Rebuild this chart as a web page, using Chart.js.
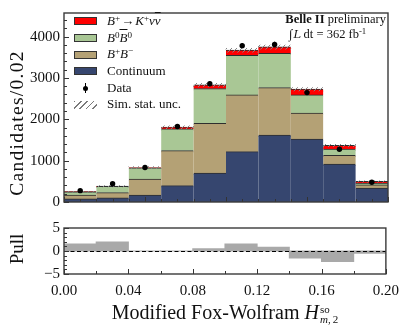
<!DOCTYPE html>
<html>
<head>
<meta charset="utf-8">
<title>Modified Fox-Wolfram H2 distribution</title>
<script src="https://cdn.jsdelivr.net/npm/chart.js@4.4.1/dist/chart.umd.min.js"></script>
<style>
  body { margin: 0; background: #fff; }
  #wrap { position: relative; width: 407px; height: 328px; overflow: hidden;
          font-family: "Liberation Serif", "Times New Roman", serif; color: #111; }
  .box { position: absolute; left: 0; width: 407px; }
  #mainBox { top: 0; height: 215px; }
  #pullBox { top: 215px; height: 113px; }
  .ytitle { position: absolute; transform: translate(-50%, -50%) rotate(-90deg); white-space: nowrap; }
  #ytMain { left: 17px; top: 123px; font-size: 19.5px; letter-spacing: 1.3px; }
  #ytPull { left: 17px; top: 249px; font-size: 19px; }
  #xtitle { position: absolute; left: 225px; top: 312px; transform: translate(-50%, -50%);
            font-size: 20px; white-space: nowrap; }
  .ss { display: inline-block; vertical-align: -4px; font-size: 11px; line-height: 10px; margin-left: 1px; }
  .ss span { display: block; }

  #legend { position: absolute; left: 74px; top: 13px; font-size: 13px; }
  #legend .row { position: relative; height: 16.7px; line-height: 16.7px; padding-left: 33px; white-space: nowrap; }
  #legend .sw { position: absolute; left: 0; top: 4.3px; width: 21px; height: 6px; border: 1px solid #333; }
  #legend .hatch { border: none; width: 23px; height: 8px;
                   background: repeating-linear-gradient(135deg, #7a7a7a 0 1.2px, transparent 1.2px 4.5px); }
  #legend .dot { position: absolute; left: 9px; top: 5.8px; width: 5px; height: 5px; border-radius: 50%; background: #000; }
  #legend .bar { position: absolute; left: 11px; top: 3.5px; width: 1px; height: 10px; background: #000; }
  .ov { text-decoration: overline; }
  sup { font-size: 0.7em; vertical-align: 0.45em; line-height: 0; }

  #belle { position: absolute; right: 21px; top: 12px; font-size: 12.5px; white-space: nowrap; }
  #lumi { position: absolute; left: 289px; top: 27px; font-size: 12.5px; white-space: nowrap; }
  .scr { font-family: "DejaVu Serif", serif; font-style: italic; font-size: 11.5px; }
</style>
</head>
<body>
<div id="wrap">
  <div class="box" id="mainBox"><canvas id="mainChart"></canvas></div>
  <div class="box" id="pullBox"><canvas id="pullChart"></canvas></div>

  <div class="ytitle" id="ytMain">Candidates/0.02</div>
  <div class="ytitle" id="ytPull">Pull</div>
  <div id="xtitle">Modified Fox-Wolfram <i>H</i><span class="ss"><span>so</span><span><i>m</i>,&#8201;2</span></span></div>

  <div id="legend">
    <div class="row"><span class="sw" style="background:#ff0000"></span><i>B</i><sup>+</sup>&#8202;→&#8202;<i>K</i><sup>+</sup><i>ν</i><i class="ov">ν</i></div>
    <div class="row"><span class="sw" style="background:#a9c795"></span><i>B</i><sup>0</sup><span class="ov"><i>B</i></span><sup>0</sup></div>
    <div class="row"><span class="sw" style="background:#b4a175"></span><i>B</i><sup>+</sup><i>B</i><sup>−</sup></div>
    <div class="row"><span class="sw" style="background:#36466f"></span>Continuum</div>
    <div class="row"><span class="bar"></span><span class="dot"></span>Data</div>
    <div class="row"><span class="sw hatch"></span>Sim. stat. unc.</div>
  </div>

  <div id="belle"><b>Belle II</b> preliminary</div>
  <div id="lumi">∫&#8202;<span class="scr">L</span>&#8201;dt = 362 fb<sup>-1</sup></div>
</div>

<script>
// ---- data ----
const binCenters = [0.01, 0.03, 0.05, 0.07, 0.09, 0.11, 0.13, 0.15, 0.17, 0.19];
const continuum = [70, 95, 165, 393, 697, 1215, 1615, 1520, 910, 335];
const bPlusBMinus = [95, 130, 385, 847, 1203, 1375, 1145, 625, 215, 75];
const bZeroBZeroBar = [75, 150, 270, 525, 840, 950, 830, 445, 150, 42];
const signal = [5, 5, 10, 45, 90, 130, 155, 135, 92, 43];
const simUnc = [14, 17, 24, 34, 42, 48, 48, 42, 28, 17];
const dataCounts = [275, 440, 835, 1825, 2860, 3780, 3810, 2645, 1275, 478];
const dataErrors = [16, 21, 29, 43, 54, 62, 62, 51, 36, 22];
const pulls = [1.5, 1.95, 0, 0, 0.5, 1.5, 0.8, -1.5, -2.3, -0.5];

const mainYTicks = [0, 1000, 2000, 3000, 4000];
const pullYTicks = [-5, 0, 5];
const pullXTicks = [0, 0.04, 0.08, 0.12, 0.16, 0.20];

const FONT = { family: '"Liberation Serif", serif', size: 15 };
const INK = '#111';

function steps(from, to, step) {
    const out = [];
    const n = Math.round((to - from) / step);
    for (let i = 0; i <= n; i++) out.push(from + i * step);
    return out;
}

function hatchPattern() {
    const c = document.createElement('canvas');
    c.width = 5; c.height = 5;
    const g = c.getContext('2d');
    g.strokeStyle = '#858585';
    g.lineWidth = 1;
    g.beginPath();
    g.moveTo(0, 5); g.lineTo(5, 0);
    g.moveTo(-1, 1); g.lineTo(1, -1);
    g.moveTo(4, 6); g.lineTo(6, 4);
    g.stroke();
    return g.createPattern(c, 'repeat');
}

// inward ticks + frame, matplotlib style
const axisTicks = {
    id: 'axisTicks',
    afterDraw(chart, args, o) {
        const { ctx, chartArea: a } = chart;
        const xs = chart.scales.x, ys = chart.scales.y;
        ctx.save();
        ctx.strokeStyle = '#333';
        ctx.lineWidth = 1;
        ctx.beginPath();
        const xt = (list, len) => list.forEach(v => {
            const x = Math.round(xs.getPixelForValue(v)) + 0.5;
            ctx.moveTo(x, a.bottom); ctx.lineTo(x, a.bottom - len);
        });
        const yt = (list, len) => list.forEach(v => {
            const y = Math.round(ys.getPixelForValue(v)) + 0.5;
            ctx.moveTo(a.left, y); ctx.lineTo(a.left + len, y);
        });
        xt(o.xMajor, 5); xt(o.xMinor, 3);
        yt(o.yMajor, 5); yt(o.yMinor, 3);
        ctx.stroke();
        ctx.strokeStyle = '#3a3a3a';
        ctx.lineWidth = 1.4;
        ctx.strokeRect(a.left, a.top, a.right - a.left, a.bottom - a.top);
        ctx.restore();
    }
};

const errorBars = {
    id: 'errorBars',
    afterDatasetsDraw(chart) {
        const { ctx } = chart;
        const xs = chart.scales.x, ys = chart.scales.yd;
        ctx.save();
        ctx.strokeStyle = '#000';
        ctx.lineWidth = 1.2;
        ctx.beginPath();
        dataCounts.forEach((v, i) => {
            const x = xs.getPixelForValue(binCenters[i]);
            ctx.moveTo(x, ys.getPixelForValue(v - dataErrors[i]));
            ctx.lineTo(x, ys.getPixelForValue(v + dataErrors[i]));
        });
        ctx.stroke();
        ctx.restore();
    }
};

const zeroLine = {
    id: 'zeroLine',
    afterDatasetsDraw(chart) {
        const { ctx, chartArea: a } = chart;
        const y = Math.round(chart.scales.y.getPixelForValue(0)) + 0.5;
        ctx.save();
        ctx.strokeStyle = '#000';
        ctx.lineWidth = 1;
        ctx.setLineDash([4, 2.5]);
        ctx.beginPath();
        ctx.moveTo(a.left, y); ctx.lineTo(a.right, y);
        ctx.stroke();
        ctx.restore();
    }
};

const mcTotal = binCenters.map((_, i) => continuum[i] + bPlusBMinus[i] + bZeroBZeroBar[i] + signal[i]);
const pts = arr => binCenters.map((x, i) => ({ x: x, y: arr[i] }));

function mcSet(label, values, color) {
    return {
        type: 'bar', label: label, data: pts(values), backgroundColor: color,
        borderColor: '#2e2e2e', borderWidth: { top: 1, left: 0, right: 0, bottom: 0 },
        borderSkipped: false, inflateAmount: 0.5,
        barPercentage: 1, categoryPercentage: 1, order: 3
    };
}

new Chart(document.getElementById('mainChart'), {
    type: 'bar',
    data: {
        datasets: [
            mcSet('Continuum', continuum, '#36466f'),
            mcSet('B+B-', bPlusBMinus, '#b4a175'),
            mcSet('B0B0bar', bZeroBZeroBar, '#a9c795'),
            mcSet('B+ -> K+ nu nubar', signal, '#ff0000'),
            {
                type: 'bar', label: 'Sim. stat. unc.', yAxisID: 'yd',
                data: binCenters.map((x, i) => ({ x: x, y: [mcTotal[i] - simUnc[i], mcTotal[i] + simUnc[i]] })),
                backgroundColor: hatchPattern(), borderWidth: 0,
                barPercentage: 1, categoryPercentage: 1, order: 2
            },
            {
                type: 'line', label: 'Data', yAxisID: 'yd', data: pts(dataCounts),
                showLine: false, pointRadius: 2.7, pointBackgroundColor: '#000',
                pointBorderWidth: 0, order: 1
            }
        ]
    },
    options: {
        responsive: true,
        maintainAspectRatio: false,
        animation: false,
        layout: { padding: { left: 0, right: 19, top: 6, bottom: 9 } },
        plugins: {
            legend: { display: false },
            tooltip: { enabled: false },
            axisTicks: {
                xMajor: [0, 0.05, 0.10, 0.15, 0.20],
                xMinor: steps(0, 0.2, 0.01),
                yMajor: mainYTicks,
                yMinor: steps(0, 4400, 200)
            }
        },
        scales: {
            x: { type: 'linear', min: 0, max: 0.2, offset: false, stacked: true, display: false },
            y: {
                stacked: true, min: 0, max: 4570,
                afterFit: s => { s.width = 64; },
                afterBuildTicks: s => { s.ticks = mainYTicks.map(v => ({ value: v })); },
                ticks: { font: FONT, color: INK, padding: 4, callback: v => String(v) },
                grid: { display: false, drawTicks: false },
                border: { display: false }
            },
            yd: { display: false, min: 0, max: 4570 }
        }
    },
    plugins: [axisTicks, errorBars]
});

new Chart(document.getElementById('pullChart'), {
    type: 'bar',
    data: {
        datasets: [{
            label: 'Pull', data: pts(pulls), backgroundColor: '#a9a9a9', borderWidth: 0,
            inflateAmount: 0.5, barPercentage: 1, categoryPercentage: 1
        }]
    },
    options: {
        responsive: true,
        maintainAspectRatio: false,
        animation: false,
        layout: { padding: { left: 0, right: 19, top: 9, bottom: 0 } },
        plugins: {
            legend: { display: false },
            tooltip: { enabled: false },
            axisTicks: {
                xMajor: pullXTicks,
                xMinor: steps(0, 0.2, 0.02),
                yMajor: pullYTicks,
                yMinor: steps(-5, 5, 1)
            }
        },
        scales: {
            x: {
                type: 'linear', min: 0, max: 0.2, offset: false,
                afterFit: s => { s.height = 54; },
                afterBuildTicks: s => { s.ticks = pullXTicks.map(v => ({ value: v })); },
                ticks: { font: FONT, color: INK, padding: 8, maxRotation: 0, autoSkip: false,
                         callback: v => v.toFixed(2) },
                grid: { display: false, drawTicks: false },
                border: { display: false }
            },
            y: {
                min: -5, max: 5,
                afterFit: s => { s.width = 64; },
                afterBuildTicks: s => { s.ticks = pullYTicks.map(v => ({ value: v })); },
                ticks: { font: FONT, color: INK, padding: 4,
                         callback: v => v < 0 ? '\u2212' + (-v) : String(v) },
                grid: { display: false, drawTicks: false },
                border: { display: false }
            }
        }
    },
    plugins: [axisTicks, zeroLine]
});
</script>
</body>
</html>
